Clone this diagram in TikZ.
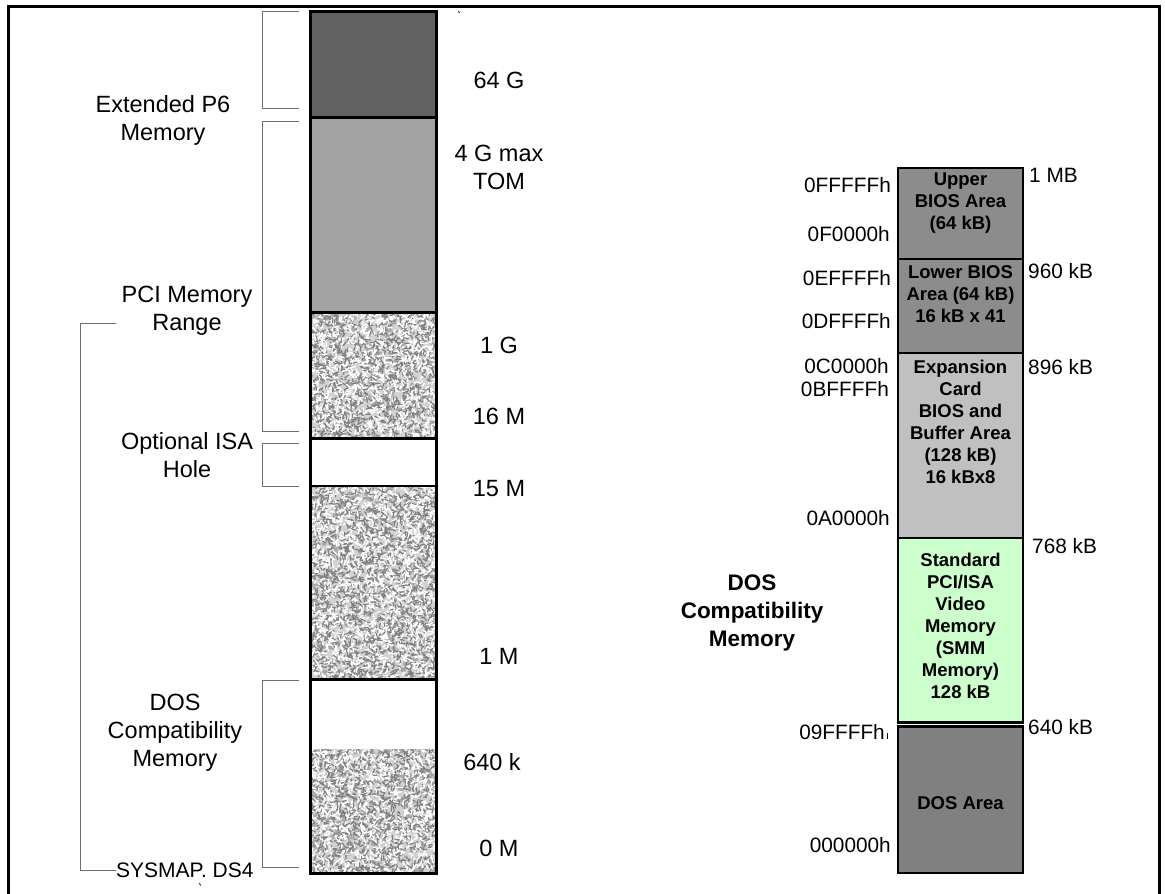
\documentclass[tikz,border=0pt]{standalone}
\usepackage{fontspec}
\setmainfont{Liberation Sans}
\definecolor{cSixtyFour}{HTML}{626262}
\definecolor{cFourG}{HTML}{A3A3A3}
\definecolor{cUpper}{HTML}{8C8C8C}
\definecolor{cExp}{HTML}{C0C0C0}
\definecolor{cGreen}{HTML}{CCFFCC}
\definecolor{cDos}{HTML}{808080}
\definecolor{cBrk}{HTML}{6E6E6E}
\definecolor{cStone}{HTML}{D2D2D2}
\definecolor{cStoneDark}{HTML}{7E7E7E}
\definecolor{cStoneMid}{HTML}{A8A8A8}
\newcommand{\stonefill}[4]{%
  \begin{scope}
    \clip (#1,#2) rectangle (#3,#4);
    \fill[cStone] (#1,#2) rectangle (#3,#4);
    \pgfmathsetmacro{\mm}{int(((#3-#1)/60)*(#4-#2))}
    \foreach \i in {1,...,\mm} {
      \pgfmathsetmacro{\bx}{#1+rnd*(#3-#1)}
      \pgfmathsetmacro{\by}{#2+rnd*(#4-#2)}
      \pgfmathsetmacro{\br}{1.5+rnd*2}
      \fill[cStoneMid] (\bx,\by) ellipse [x radius=\br, y radius=0.7*\br];
    }
    \pgfmathsetmacro{\nn}{int(((#3-#1)/14)*(#4-#2))}
    \foreach \i in {1,...,\nn} {
      \pgfmathsetmacro{\px}{#1+rnd*(#3-#1)}
      \pgfmathsetmacro{\py}{#2+rnd*(#4-#2)}
      \pgfmathsetmacro{\ang}{rnd*360}
      \pgfmathsetmacro{\len}{2+rnd*3}
      \draw[cStoneDark, line width=1.2pt, line cap=round] (\px,\py) -- ++(\ang:\len);
      \pgfmathsetmacro{\qx}{#1+rnd*(#3-#1)}
      \pgfmathsetmacro{\qy}{#2+rnd*(#4-#2)}
      \draw[white, line width=1.4pt, line cap=round] (\qx,\qy) -- ++(\ang+90:\len);
    }
  \end{scope}}
\begin{document}
\begin{tikzpicture}[x=1pt,y=-1pt,
  lbl/.style={font=\fontsize{23.5}{28}\selectfont, align=center, inner sep=0pt},
  hexlbl/.style={font=\fontsize{20.8}{23}\selectfont, inner sep=0pt},
  boxtxt/.style={font=\bfseries\fontsize{18.5}{22}\selectfont, align=center, inner sep=0pt},
  brk/.style={draw=cBrk, line width=1pt},
  colline/.style={draw=black, line width=3pt},
  rbox/.style={draw=black, line width=2.5pt}
]
\pgfmathsetseed{42}
\useasboundingbox (0,0) rectangle (1165,894);
\fill[white] (0,0) rectangle (1165,894);
% frame
\draw[line width=3pt] (8,894) -- (8,6.5) -- (1159.5,6.5) -- (1159.5,894);

% ---------- left column ----------
\fill[cSixtyFour] (310,11) rectangle (436,117);
\fill[cFourG] (310,117) rectangle (436,312);
\stonefill{310}{312}{436}{438}
\stonefill{310}{486}{436}{679}
\stonefill{310}{749}{437}{873}
\draw[colline] (310,11) rectangle (436,873);
\draw[colline] (310,117) -- (436,117);
\draw[colline] (310,312) -- (436,312);
\draw[colline] (310,438) -- (436,438);
\draw[line width=2pt] (310,486) -- (436,486);
\draw[colline] (310,679) -- (436,679);

% brackets
\draw[brk] (298.5,11) -- (262,11) -- (262,108) -- (298.5,108);
\draw[brk] (298.5,121) -- (262,121) -- (262,431) -- (298.5,431);
\draw[brk] (298.5,443) -- (262,443) -- (262,486) -- (298.5,486);
\draw[brk] (298.5,680) -- (262,680) -- (262,867) -- (298.5,867);

% left labels
\node[lbl] (p6) at (163,120) {Extended P6\\Memory};
\node[lbl] (pci) at (187,311) {PCI Memory\\Range};
\node[lbl] (isa) at (187,455) {Optional ISA\\Hole};
\node[lbl] (dosl) at (175,733) {DOS\\Compatibility\\Memory};
\node[lbl, font=\fontsize{21}{25}\selectfont, anchor=west] (sysmap) at (116,870) {SYSMAP. DS4};
\draw[brk] (116,323) -- (80,323) |- (sysmap.west);

% right labels of left column
\node[lbl] (g64) at (499,80) {64 G};
\node[lbl] (g4) at (499,167.5) {4 G max\\TOM};
\node[lbl] (g1) at (499,345) {1 G};
\node[lbl] (m16) at (499,416) {16 M};
\node[lbl] (m15) at (499,489) {15 M};
\node[lbl] (m1) at (499,656) {1 M};
\node[lbl] (k640) at (492,762) {640 k};
\node[lbl] (m0) at (499,848) {0 M};

% tiny marks
\draw[line width=0.8pt] (458.5,11) -- (459.5,13);
\draw[line width=0.8pt] (199.5,883) -- (200.5,885.5);

% ---------- right column ----------
\filldraw[rbox, fill=cUpper] (898,168) rectangle (1023,259);
\filldraw[rbox, fill=cUpper] (898,259) rectangle (1023,353);
\filldraw[rbox, fill=cExp] (898,353) rectangle (1023,538);
\filldraw[rbox, fill=cGreen] (898,538) rectangle (1023,722.5);
\filldraw[rbox, fill=cDos] (898,726.5) rectangle (1023,873);

\node[boxtxt] (ubios) at (960.5,203.5) {Upper\\BIOS Area\\(64 kB)};
\node[boxtxt] (lbios) at (960.5,294.5) {Lower BIOS\\Area (64 kB)\\16 kB x 41};
\node[boxtxt] (exp) at (960.5,422) {Expansion\\Card\\BIOS and\\Buffer Area\\(128 kB)\\16 kBx8};
\node[boxtxt] (vid) at (960.5,626) {Standard\\PCI/ISA\\Video\\Memory\\(SMM\\Memory)\\128 kB};
\node[boxtxt] (dosa) at (960.5,803) {DOS Area};

% hex addresses
\node[hexlbl, anchor=east] (h1) at (891,185) {0FFFFFh};
\node[hexlbl, anchor=east] (h2) at (890,234) {0F0000h};
\node[hexlbl, anchor=east] (h3) at (891,278) {0EFFFFh};
\node[hexlbl, anchor=east] (h4) at (891,321) {0DFFFFh};
\node[hexlbl, anchor=east] (h5) at (889,366) {0C0000h};
\node[hexlbl, anchor=east] (h6) at (889,389) {0BFFFFh};
\node[hexlbl, anchor=east] (h7) at (890,518) {0A0000h};
\node[hexlbl, anchor=east] (h8) at (885,732) {09FFFFh};
\node[hexlbl, anchor=east] (h9) at (891,845) {000000h};
\draw[line width=0.7pt] (887,733) -- (887,739);

% sizes
\node[hexlbl, anchor=west] (s1) at (1029,175) {1 MB};
\node[hexlbl, anchor=west] (s2) at (1028,271) {960 kB};
\node[hexlbl, anchor=west] (s3) at (1028,367) {896 kB};
\node[hexlbl, anchor=west] (s4) at (1032,546) {768 kB};
\node[hexlbl, anchor=west] (s5) at (1028,727) {640 kB};

% DOS compatibility bold label
\node[font=\bfseries\fontsize{22.5}{28}\selectfont, align=center, inner sep=0pt] (dosc) at (752,613) {DOS\\Compatibility\\Memory};
\end{tikzpicture}
\end{document}
